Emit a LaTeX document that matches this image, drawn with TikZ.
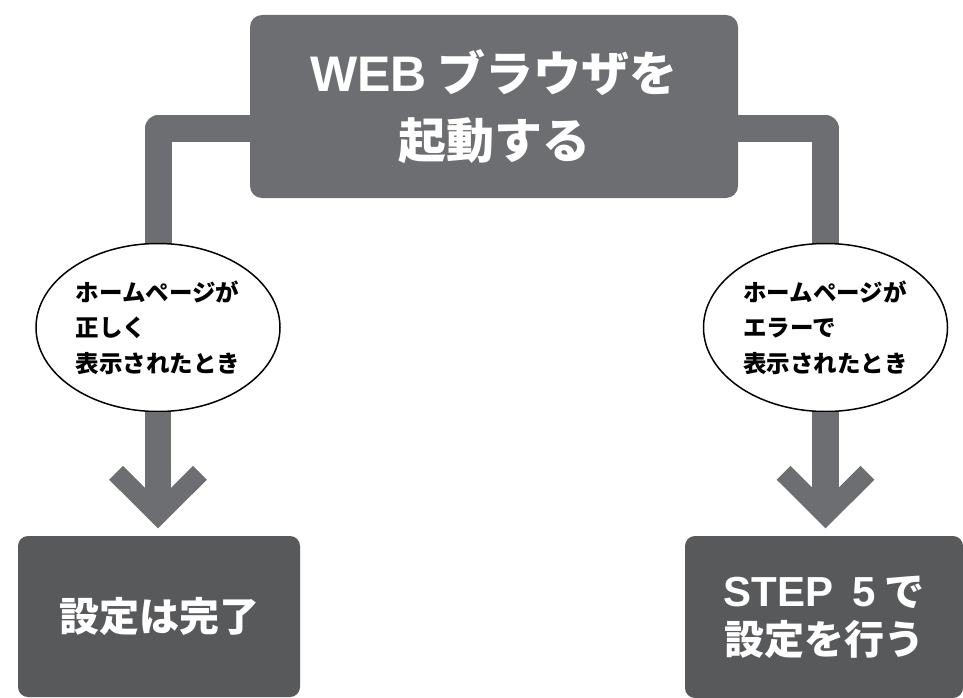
\documentclass[tikz,border=0pt]{standalone}
\usepackage{fontspec}
\newfontfamily\jp{Noto Sans CJK JP}
\newfontfamily\lat{Liberation Sans}
\usetikzlibrary{shapes.geometric,backgrounds}
\definecolor{boxgray}{HTML}{6D6E71}
\definecolor{endgray}{HTML}{58595B}
\begin{document}
\begin{tikzpicture}[x=1pt,y=-1pt,
  topbox/.style={fill=boxgray, rounded corners=12pt, minimum width=488pt, minimum height=183pt, inner sep=0pt, text=white, align=center, font=\jp\bfseries\fontsize{48}{67}\selectfont},
  endbox/.style={fill=endgray, rounded corners=10pt, inner sep=0pt, text=white, align=center, font=\jp\bfseries\fontsize{40}{48}\selectfont},
  cond/.style={ellipse, draw=black, line width=1.5pt, fill=white, minimum width=244pt, minimum height=168pt, inner sep=0pt, align=left, font=\jp\bfseries\fontsize{23.5}{35.5}\selectfont},
  bar/.style={draw=boxgray, line width=27pt, line join=round},
  shaft/.style={draw=boxgray, line width=26.7pt},
  chev/.style={draw=boxgray, line width=19.6pt, line join=miter},
]
\useasboundingbox (0,0) rectangle (963,698);
\node[topbox] (start) at (494,106.5) {{\lat\bfseries\fontsize{50}{67}\selectfont WEB} ブラウザを\\起動する};
\node[cond] (ok) at (158,327.5) {ホームページが\\正しく\\表示されたとき};
\node[cond] (err) at (825.5,327.5) {ホームページが\\エラーで\\表示されたとき};
\node[endbox, minimum width=282pt, minimum height=161pt] (done) at (159,616.5) {設定は完了};
\node[endbox, minimum width=278pt, minimum height=162pt] (step5) at (824,617) {\rule{0pt}{8pt}{\lat\bfseries\fontsize{42}{48}\selectfont STEP\hspace{0.45em}5} で\\設定を行う};
\coordinate (lt) at (ok.south |- done.north);
\coordinate (rt) at (err.south |- step5.north);
\begin{scope}[on background layer]
\draw[bar] ([xshift=20pt,yshift=-22pt]start.west) -| (ok.north);
\draw[bar] ([xshift=-20pt,yshift=-22pt]start.east) -| (err.north);
\end{scope}
\draw[shaft] (ok.south) -- ([yshift=26pt]lt);
\draw[shaft] (err.south) -- ([yshift=26pt]rt);
\draw[chev] ([shift={(-41.85pt,63pt)}]lt) -- ([yshift=21.2pt]lt) -- ([shift={(41.85pt,63pt)}]lt);
\draw[chev] ([shift={(-41.85pt,63pt)}]rt) -- ([yshift=21.2pt]rt) -- ([shift={(41.85pt,63pt)}]rt);
\end{tikzpicture}
\end{document}
